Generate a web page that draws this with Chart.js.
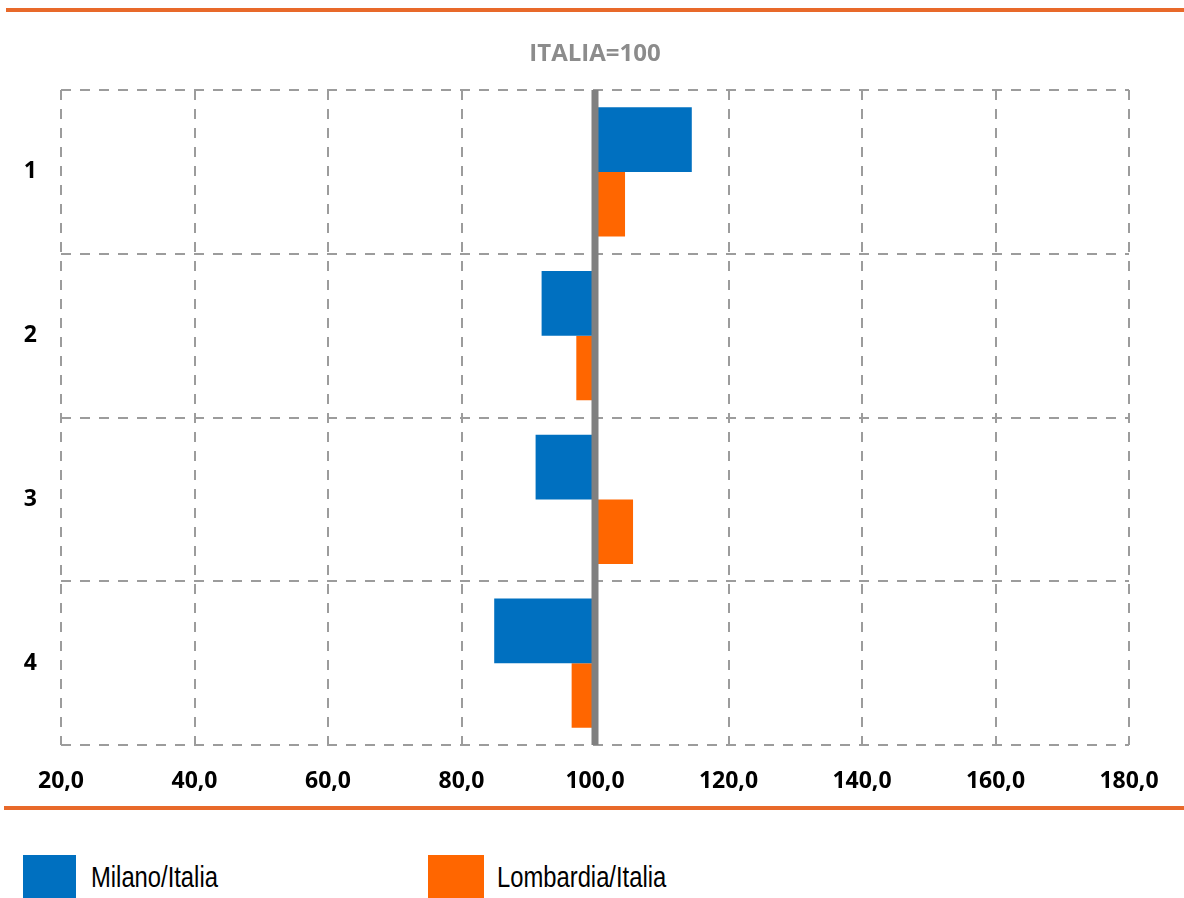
<!DOCTYPE html>
<html>
<head>
<meta charset="utf-8">
<script src="https://cdn.jsdelivr.net/npm/chart.js@4"></script>
<style>
  body { margin: 0; background: #fff; overflow: hidden; }
  #wrap { position: absolute; left: 0; top: 0; width: 1184px; height: 800px; }
  .rule { position: absolute; background: #E8692A; height: 4px; }
  .box { position: absolute; top: 855px; width: 53px; height: 43px; }
  .lbl {
    position: absolute; top: 863px; font-family: "Liberation Sans", Arial, sans-serif;
    font-size: 29px; line-height: 29px; color: #000;
    transform: scaleX(0.82); transform-origin: left top; white-space: nowrap;
  }
</style>
</head>
<body>
<div class="rule" style="left:6px; top:8px; width:1178px;"></div>
<div id="wrap"><canvas id="chart"></canvas></div>
<div class="rule" style="left:4px; top:806px; width:1180px;"></div>

<div class="box" style="left:23px; background:#0070C0;"></div>
<div class="lbl" style="left:91px;">Milano/Italia</div>
<div class="box" style="left:428px; width:56px; background:#FF6600;"></div>
<div class="lbl" style="left:497px;">Lombardia/Italia</div>

<script>
// categorie e valori (Italia = 100)
const categories = ['1', '2', '3', '4'];
const milano = [114.5, 92.0, 91.1, 84.9];
const lombardia = [104.5, 97.2, 105.7, 96.5];
const xTicks = [20, 40, 60, 80, 100, 120, 140, 160, 180];
const baseValue = 100;
const titleText = 'ITALIA=100';

// linea verticale grigia sul valore 100 + titolo centrato sull'area del grafico
const baseLine = {
    id: 'baseLine',
    afterDatasetsDraw(chart) {
        const { ctx, chartArea, scales } = chart;
        const x = scales.x.getPixelForValue(baseValue);
        ctx.save();
        ctx.strokeStyle = '#808080';
        ctx.lineWidth = 7;
        ctx.beginPath();
        ctx.moveTo(x, chartArea.top);
        ctx.lineTo(x, chartArea.bottom);
        ctx.stroke();

        ctx.fillStyle = '#8C8C8C';
        ctx.font = "bold 24px 'Open Sans', sans-serif";
        ctx.textAlign = 'center';
        ctx.textBaseline = 'middle';
        ctx.fillText(titleText, (chartArea.left + chartArea.right) / 2, 54);
        ctx.restore();
    }
};

const tickFont = { family: "'Open Sans', sans-serif", size: 23, weight: 'bold' };

new Chart(document.getElementById('chart'), {
    type: 'bar',
    data: {
        labels: categories,
        datasets: [
            { label: 'Milano/Italia', data: milano, backgroundColor: '#0070C0', base: baseValue },
            { label: 'Lombardia/Italia', data: lombardia, backgroundColor: '#FF6600', base: baseValue }
        ]
    },
    options: {
        indexAxis: 'y',
        responsive: true,
        maintainAspectRatio: false,
        animation: false,
        categoryPercentage: 0.79,
        barPercentage: 1,
        layout: { padding: { left: 0, right: 55, top: 90, bottom: 0 } },
        scales: {
            x: {
                min: 20,
                max: 180,
                afterBuildTicks: scale => { scale.ticks = xTicks.map(v => ({ value: v })); },
                afterFit: scale => { scale.height = 55; },
                ticks: {
                    color: '#000',
                    font: tickFont,
                    padding: 23,
                    callback: v => v.toFixed(1).replace('.', ',')
                },
                grid: { color: '#9C9C9C', lineWidth: 2, drawTicks: false },
                border: { display: false, dash: [10, 9] }
            },
            y: {
                afterFit: scale => { scale.width = 61; },
                ticks: { color: '#000', font: tickFont, padding: 24 },
                grid: { color: '#9C9C9C', lineWidth: 2, drawTicks: false },
                border: { display: false, dash: [10, 9] }
            }
        },
        plugins: {
            legend: { display: false },
            tooltip: { enabled: false },
            title: { display: false }
        }
    },
    plugins: [baseLine]
});
</script>
</body>
</html>
